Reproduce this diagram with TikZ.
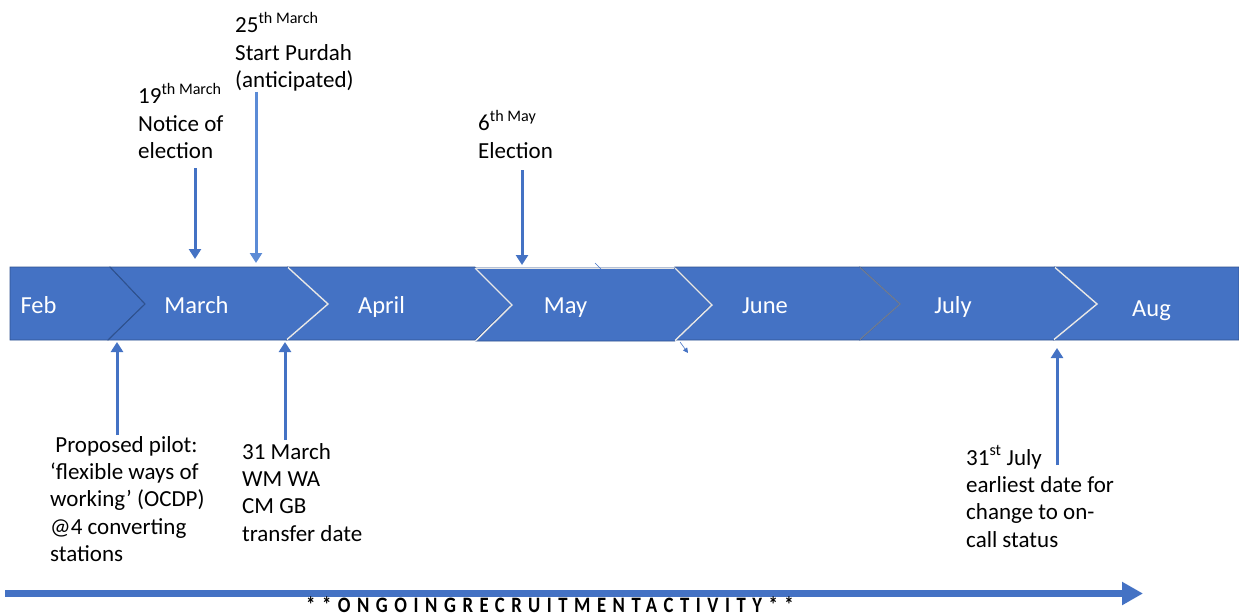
\documentclass[tikz,border=0pt]{standalone}
\usepackage{fontspec}
\setmainfont{Carlito}
\usetikzlibrary{arrows.meta}
\definecolor{bandblue}{HTML}{4472C4}
\definecolor{edgeblue}{HTML}{2F528F}
\definecolor{arrowblue}{HTML}{4472C4}
\definecolor{lightarrow}{HTML}{5B8BD6}
\newcommand\mylines[1]{\vtop{\baselineskip=27.4pt\lineskiplimit=-100pt\lineskip=0pt\halign{##\hfil\cr#1\crcr}}}
\begin{document}
\begin{tikzpicture}[x=1pt,y=-1pt,
  chev/.style={fill=bandblue, draw=edgeblue, line width=0.6pt},
  sepline/.style={draw=white!82!gray, line width=1.4pt, line join=miter},
  sepdark/.style={draw=edgeblue, line width=1pt},
  sepgray/.style={draw=gray!70!bandblue, line width=1.2pt},
  month/.style={text=white, font=\fontsize{24.5}{28}\selectfont, anchor=base, inner sep=0pt},
  lbl/.style={anchor=base west, inner sep=0pt, font=\fontsize{23}{27.4}\selectfont, text=black},
  evt/.style={draw=arrowblue, line width=3pt, -{Triangle[width=12pt,length=10pt]}},
]
\useasboundingbox (0,0) rectangle (1239,615);
\fill[white] (0,0) rectangle (1239,615);

% chevrons
\path[chev] (10,267) -- (110,267) -- (145,304) -- (108,340) -- (10,340) -- cycle;
\path[chev] (110,267) -- (288,267) -- (328,304) -- (287,340) -- (108,340) -- (145,304) -- cycle;
\path[chev] (288,267) -- (475,267) -- (512,304) -- (475,340) -- (287,340) -- (328,304) -- cycle;
\path[chev] (475,268) -- (675,268) -- (712,305) -- (675,341) -- (476,341) -- (512,305) -- cycle;
\path[chev] (675,267) -- (860,267) -- (900,304) -- (860,340) -- (675,340) -- (712,304) -- cycle;
\path[chev] (860,267) -- (1055,267) -- (1097,304) -- (1054,340) -- (860,340) -- (900,304) -- cycle;
\path[chev] (1055,267) -- (1239,267) -- (1239,340) -- (1054,340) -- (1097,304) -- cycle;
% separators
\draw[sepdark] (110,267) -- (145,304) -- (108,340);
\draw[sepline] (288,267.5) -- (328,304) -- (287,339.5);
\draw[sepline] (475,268) -- (512,305) -- (476,340.5);
\draw[sepline] (675,268) -- (712,305) -- (675,340.5);
\draw[sepgray] (860,267.5) -- (900,304) -- (860,339.5);
\draw[sepline] (1055,267.5) -- (1097,304) -- (1054,339.5);
\draw[white!80!gray, line width=0.8pt] (476,268.5) -- (674,268.5);

% month labels
\node[month] (feb) at (38.5,313) {Feb};
\node[month] (mar) at (196.5,313) {March};
\node[month] (apr) at (381.5,313) {April};
\node[month] (may) at (565.5,313) {May};
\node[month] (jun) at (765,313) {June};
\node[month] (jul) at (953,313) {July};
\node[month] (aug) at (1151.5,316) {Aug};

% top labels
\node[lbl] (l25) at (235,33) {\mylines{25\textsuperscript{th March}\cr Start Purdah\cr (anticipated)}};
\node[lbl] (l19) at (138,104) {\mylines{19\textsuperscript{th March}\cr Notice of\cr election}};
\node[lbl] (l6) at (478,131) {\mylines{6\textsuperscript{th May}\cr Election}};

% bottom labels
\node[lbl] (lpilot) at (50,452) {\mylines{\ Proposed pilot:\cr ‘flexible ways of\cr working’ (OCDP)\cr @4 converting\cr stations}};
\node[lbl] (l31m) at (242,459) {\mylines{31 March\cr WM WA\cr CM GB\cr transfer date}};
\node[lbl] (l31j) at (966,465) {\mylines{31\textsuperscript{st} July\cr earliest date for\cr change to on-\cr call status}};

% event arrows
\coordinate (s19) at (195,168); \coordinate (e19) at (195,259);
\coordinate (s25) at (256,92);  \coordinate (e25) at (256,263);
\coordinate (s6) at (522,170);  \coordinate (e6) at (522,265);
\coordinate (sp) at (117,435);  \coordinate (ep) at (117,342);
\coordinate (s31) at (285,440); \coordinate (e31) at (285,342);
\coordinate (sj) at (1057,465); \coordinate (ej) at (1057,348);
\draw[evt] (s19) -- (e19);
\draw[evt, draw=lightarrow] (s25) -- (e25);
\draw[evt] (s6) -- (e6);
\draw[evt] (sp) -- (ep);
\draw[evt] (s31) -- (e31);
\draw[evt] (sj) -- (ej);

% small stray marks
\coordinate (m1) at (595,263); \coordinate (m2) at (601,269);
\draw[arrowblue, line width=0.6pt] (m1) -- (m2);
\coordinate (m3) at (680,342); \coordinate (m4) at (688,353);
\draw[arrowblue, line width=0.6pt, -{Triangle[width=5pt,length=5pt]}] (m3) -- (m4);

% ongoing activity arrow
\coordinate (bs) at (5,593.5); \coordinate (be) at (1143,593.5);
\draw[arrowblue, line width=7pt, -{Triangle[width=22pt,length=21pt]}] (bs) -- (be);
\node[anchor=base, inner sep=0pt, font=\fontsize{22}{24}\bfseries\selectfont\addfontfeature{LetterSpace=35}] (ongoing) at (550,612.5) {\scalebox{0.85}[1]{**ONGOINGRECRUITMENTACTIVITY**}};
\end{tikzpicture}
\end{document}
